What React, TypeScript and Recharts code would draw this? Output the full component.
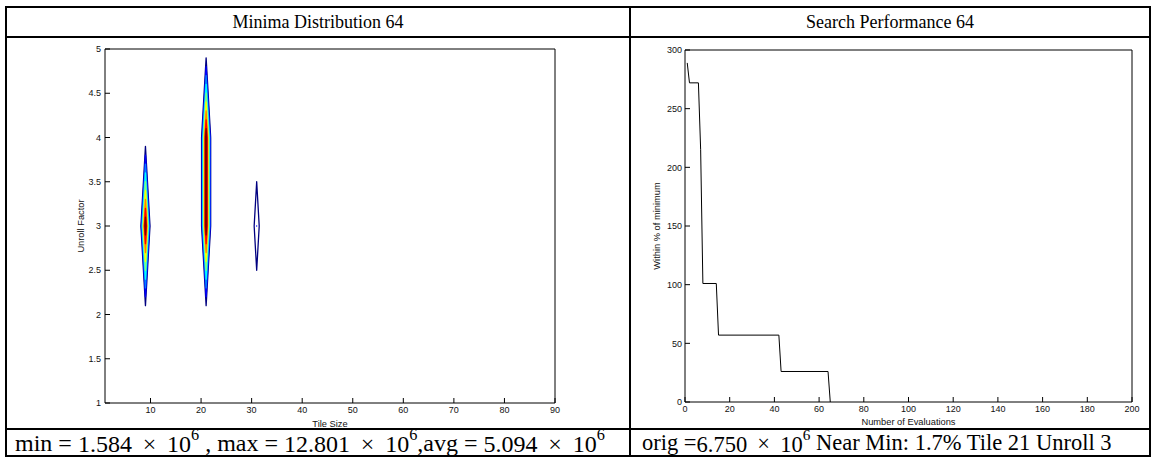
import React from "react";
import { LineChart, Line, XAxis, YAxis } from "recharts";

// Minima found by the search, keyed by (tile size, unroll factor)
const minimaTile = [9, 21, 21, 31];
const minimaUnroll = [3, 3, 4, 3];
const minimaCount = [10, 10, 10, 2];

// Sampling grid of the contour plot
const tileGrid = Array.from({ length: 90 }, (_, i) => i + 1);
const unrollGrid = [1, 2, 3, 4, 5];
const contourLevels = [1, 2, 3, 4, 5, 6, 7, 8, 9];

const tileTicks = [10, 20, 30, 40, 50, 60, 70, 80, 90];
const unrollTicks = [1, 1.5, 2, 2.5, 3, 3.5, 4, 4.5, 5];

// Best-so-far trace of the search
const evalNumber = [1, 2, 6, 7, 8, 14, 15, 42, 43, 64, 65];
const withinPct = [289, 272, 272, 215, 101, 101, 57, 57, 26, 26, 0];

const evalTicks = [0, 20, 40, 60, 80, 100, 120, 140, 160, 180, 200];
const pctTicks = [0, 50, 100, 150, 200, 250, 300];

type Pt = { x: number | null; y: number | null };

const tickStyle = { fontSize: 9, fill: "#111", fontFamily: "'Liberation Sans', Arial, sans-serif" };
const titleStyle = { fontSize: 9.3, fill: "#111", fontFamily: "'Liberation Sans', Arial, sans-serif" };

function buildGrid(): number[][] {
  const z = unrollGrid.map(() => tileGrid.map(() => 0));
  minimaTile.forEach((t, k) => {
    z[unrollGrid.indexOf(minimaUnroll[k])][tileGrid.indexOf(t)] = minimaCount[k];
  });
  return z;
}

// marching squares: one polyline piece per crossed cell, pieces split by nulls
function contourSegments(z: number[][], level: number): Pt[] {
  const out: Pt[] = [];
  for (let j = 0; j < unrollGrid.length - 1; j++) {
    for (let i = 0; i < tileGrid.length - 1; i++) {
      const c = [
        { x: tileGrid[i], y: unrollGrid[j], v: z[j][i] },
        { x: tileGrid[i + 1], y: unrollGrid[j], v: z[j][i + 1] },
        { x: tileGrid[i + 1], y: unrollGrid[j + 1], v: z[j + 1][i + 1] },
        { x: tileGrid[i], y: unrollGrid[j + 1], v: z[j + 1][i] },
      ];
      const hits: Pt[] = [];
      for (let e = 0; e < 4; e++) {
        const a = c[e];
        const b = c[(e + 1) % 4];
        if (a.v >= level !== b.v >= level) {
          const t = (level - a.v) / (b.v - a.v);
          hits.push({ x: a.x + t * (b.x - a.x), y: a.y + t * (b.y - a.y) });
        }
      }
      for (let h = 0; h + 1 < hits.length; h += 2) {
        out.push(hits[h], hits[h + 1], { x: null, y: null });
      }
    }
  }
  return out;
}

// MATLAB "jet" colormap
function jet(t: number): string {
  const ch = (v: number) => Math.round(255 * Math.max(0, Math.min(1, v)));
  const r = ch(1.5 - Math.abs(4 * t - 3));
  const g = ch(1.5 - Math.abs(4 * t - 2));
  const b = ch(1.5 - Math.abs(4 * t - 1));
  return `rgb(${r},${g},${b})`;
}

function axisTitle(text: string, vertical: boolean, shift: number) {
  return (props: any) => {
    const vb = props.viewBox;
    if (vertical) {
      const x = vb.x + vb.width / 2 + shift;
      const y = vb.y + vb.height / 2;
      return (
        <text x={x} y={y} transform={`rotate(-90, ${x}, ${y})`} textAnchor="middle" dominantBaseline="central" style={titleStyle}>
          {text}
        </text>
      );
    }
    return (
      <text x={vb.x + vb.width / 2} y={vb.y + vb.height - shift} textAnchor="middle" style={titleStyle}>
        {text}
      </text>
    );
  };
}

const cellText: React.CSSProperties = {
  position: "absolute",
  display: "flex",
  alignItems: "center",
  justifyContent: "center",
  whiteSpace: "nowrap",
};

// mantissa × 10^6 with math-style spacing round the times sign
function Sci({ m }: { m: string }) {
  return (
    <span>
      {m}
      <span style={{ margin: "0 0.45em" }}>×</span>
      10<sup style={{ fontSize: "0.68em", position: "relative", top: "-0.2em" }}>6</sup>
    </span>
  );
}

export default function App() {
  const z = buildGrid();
  const contours = contourLevels.map((lv) => ({
    level: lv,
    color: jet((lv - contourLevels[0]) / (contourLevels[contourLevels.length - 1] - contourLevels[0])),
    pts: contourSegments(z, lv),
  }));
  const trace = evalNumber.map((e, i) => ({ x: e, y: withinPct[i] }));

  const axisLine = { stroke: "#000", strokeWidth: 1 };

  return (
    <div
      style={{
        position: "absolute",
        left: 0,
        top: 0,
        width: 1157,
        height: 463,
        background: "#fff",
        fontFamily: "'Liberation Serif', 'Times New Roman', serif",
        color: "#000",
      }}
    >
      {/* table rules */}
      <div style={{ position: "absolute", left: 5, top: 6, width: 1142, height: 447, border: "2px solid #000" }} />
      <div style={{ position: "absolute", left: 5, top: 36, width: 1146, height: 2, background: "#000" }} />
      <div style={{ position: "absolute", left: 5, top: 428, width: 1146, height: 2, background: "#000" }} />
      <div style={{ position: "absolute", left: 629, top: 6, width: 2, height: 451, background: "#000" }} />

      <div style={{ ...cellText, left: 7, top: 8, width: 622, height: 28, fontSize: 18 }}>Minima Distribution 64</div>
      <div style={{ ...cellText, left: 631, top: 8, width: 518, height: 28, fontSize: 18 }}>Search Performance 64</div>

      <div style={{ ...cellText, justifyContent: "flex-start", left: 15, top: 430, width: 612, height: 26, fontSize: 24 }}>
        min =&nbsp;<Sci m="1.584" />&nbsp;, max =&nbsp;<Sci m="12.801" />,avg =&nbsp;<Sci m="5.094" />
      </div>
      <div style={{ ...cellText, justifyContent: "flex-start", left: 642, top: 430, width: 506, height: 26, fontSize: 22.5 }}>
        orig =<Sci m="6.750" />&nbsp;Near Min: 1.7% Tile 21 Unroll 3
      </div>

      {/* contour plot of minima over tile size / unroll factor */}
      <div style={{ position: "absolute", left: 52, top: 40 }}>
        <LineChart width={518} height={393} margin={{ top: 9, right: 15, left: 5, bottom: 0 }}>
          <XAxis
            type="number"
            dataKey="x"
            domain={[1, 90]}
            ticks={tileTicks}
            tickSize={-5}
            tickMargin={9}
            tick={tickStyle}
            axisLine={axisLine}
            tickLine={axisLine}
            height={30}
            allowDataOverflow
            label={{ content: axisTitle("Tile Size", false, 6) }}
          />
          <XAxis
            xAxisId="top"
            orientation="top"
            mirror
            type="number"
            domain={[1, 90]}
            ticks={tileTicks}
            tickSize={5}
            tick={false}
            axisLine={axisLine}
            tickLine={axisLine}
            allowDataOverflow
          />
          <YAxis
            type="number"
            domain={[1, 5]}
            ticks={unrollTicks}
            tickSize={-5}
            tickMargin={9}
            tick={tickStyle}
            axisLine={axisLine}
            tickLine={axisLine}
            width={48}
            allowDataOverflow
            label={{ content: axisTitle("Unroll Factor", true, 0) }}
          />
          <YAxis
            yAxisId="right"
            orientation="right"
            mirror
            type="number"
            domain={[1, 5]}
            ticks={unrollTicks}
            tickSize={5}
            tick={false}
            axisLine={axisLine}
            tickLine={axisLine}
            allowDataOverflow
          />
          {contours.map((c) => (
            <Line
              key={c.level}
              data={c.pts}
              dataKey="y"
              type="linear"
              stroke={c.color}
              strokeWidth={1.3}
              strokeLinecap="round"
              strokeLinejoin="round"
              dot={false}
              activeDot={false}
              isAnimationActive={false}
            />
          ))}
        </LineChart>
      </div>

      {/* best-so-far search trace */}
      <div style={{ position: "absolute", left: 624, top: 40 }}>
        <LineChart data={trace} width={523} height={392} margin={{ top: 10, right: 15, left: 5, bottom: 0 }}>
          <XAxis
            type="number"
            dataKey="x"
            domain={[0, 200]}
            ticks={evalTicks}
            tickSize={-5}
            tickMargin={9}
            tick={tickStyle}
            axisLine={axisLine}
            tickLine={axisLine}
            height={30}
            label={{ content: axisTitle("Number of Evaluations", false, 7) }}
          />
          <XAxis
            xAxisId="top"
            orientation="top"
            mirror
            type="number"
            domain={[0, 200]}
            ticks={evalTicks}
            tickSize={5}
            tick={false}
            axisLine={axisLine}
            tickLine={axisLine}
          />
          <YAxis
            type="number"
            domain={[0, 300]}
            ticks={pctTicks}
            tickSize={-5}
            tickMargin={8}
            tick={tickStyle}
            axisLine={axisLine}
            tickLine={axisLine}
            width={56}
            label={{ content: axisTitle("Within % of minimum", true, 0) }}
          />
          <YAxis
            yAxisId="right"
            orientation="right"
            mirror
            type="number"
            domain={[0, 300]}
            ticks={pctTicks}
            tickSize={5}
            tick={false}
            axisLine={axisLine}
            tickLine={axisLine}
          />
          <Line
            dataKey="y"
            type="linear"
            stroke="#000"
            strokeWidth={1}
            dot={false}
            activeDot={false}
            isAnimationActive={false}
          />
        </LineChart>
      </div>
    </div>
  );
}
